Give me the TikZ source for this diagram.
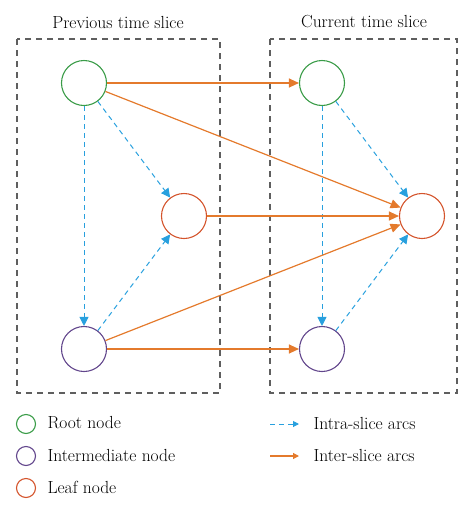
\documentclass[tikz,border=0pt]{standalone}
\usepackage{fontspec}
\usetikzlibrary{arrows.meta}
\definecolor{rootgreen}{RGB}{58,156,72}
\definecolor{interpurple}{RGB}{98,70,140}
\definecolor{leafred}{RGB}{212,84,44}
\definecolor{intrablue}{RGB}{40,160,222}
\definecolor{interorange}{RGB}{228,122,44}
\definecolor{boxgray}{RGB}{95,95,95}

\begin{document}
\begin{tikzpicture}[x=1pt,y=-1pt,font=\fontsize{17.5}{20}\selectfont,
        slicenode/.style={circle,draw,line width=1.1pt,minimum size=45pt,inner sep=0pt},
        legnode/.style={circle,draw,line width=1.1pt,minimum size=19pt,inner sep=0pt},
        slicebox/.style={draw=boxgray,line width=1.3pt,dash pattern=on 6pt off 5pt},
        intra/.style={draw=intrablue,line width=1pt,dash pattern=on 5pt off 4pt,
            -{Triangle[length=9pt,width=9pt,fill=intrablue]}},
        inter/.style={draw=interorange,line width=1.2pt,
            -{Triangle[length=10pt,width=9pt,fill=interorange]}}]
    \useasboundingbox (0,0) rectangle (474,515);
    % the two time slices
    \draw[slicebox] (17,39) rectangle (220,393);
    \draw[slicebox] (270,39) rectangle (457,393);
    \node (prevtitle) at (118,22) {Previous time slice};
    \node (currtitle) at (364,22) {Current time slice};
    \foreach \s/\dx in {p/0,c/238}{
        \node[slicenode,draw=rootgreen] (\s root) at (84+\dx,83) {};
        \node[slicenode,draw=leafred] (\s leaf) at (184+\dx,216) {};
        \node[slicenode,draw=interpurple] (\s mid) at (84+\dx,349) {};
        \draw[intra] (\s root) -- (\s mid);
        \draw[intra] (\s root) -- (\s leaf);
        \draw[intra] (\s mid) -- (\s leaf);
    }
    % arcs between the slices
    \draw[inter] (proot) -- (croot);
    \draw[inter] (proot) -- (cleaf);
    \draw[inter] (pleaf) -- (cleaf);
    \draw[inter] (pmid) -- (cleaf);
    \draw[inter] (pmid) -- (cmid);
    % legend
    \node[legnode,draw=rootgreen] (legroot) at (26,424) {};
    \node[legnode,draw=interpurple] (legmid) at (26,456) {};
    \node[legnode,draw=leafred] (legleaf) at (26,488) {};
    \node[anchor=west] at (44,423) {Root node};
    \node[anchor=west] at (44,455) {Intermediate node};
    \node[anchor=west] at (44,487) {Leaf node};
    \coordinate (intraA) at (270,424);
    \coordinate (intraB) at (299,424);
    \coordinate (interA) at (270,456);
    \coordinate (interB) at (299,456);
    \draw[draw=intrablue,line width=1pt,dash pattern=on 5pt off 4pt,
        -{Triangle[length=6pt,width=6pt,fill=intrablue]}] (intraA) -- (intraB);
    \draw[draw=interorange,line width=1.2pt,
        -{Triangle[length=6pt,width=6pt,fill=interorange]}] (interA) -- (interB);
    \node[anchor=west] at (310,423) {Intra-slice arcs};
    \node[anchor=west] at (310,455) {Inter-slice arcs};
\end{tikzpicture}
\end{document}
